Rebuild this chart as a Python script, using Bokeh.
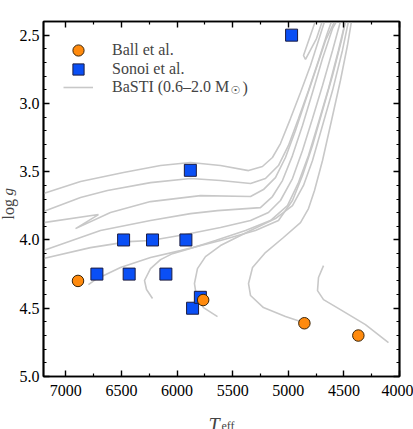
import math
from bokeh.plotting import figure
from bokeh.models import (Range1d, LinearAxis, FixedTicker, PrintfTickFormatter,
                          Legend, LegendItem, Label)
from bokeh.embed import file_html
from bokeh.resources import INLINE

# Ball et al. stars
ball_teff = [6890, 5765, 4855, 4370]
ball_logg = [4.30, 4.44, 4.61, 4.70]

# Sonoi et al. stars
sonoi_teff = [4970, 5880, 6480, 6220, 5920, 6720, 6430, 6100, 5860, 5790]
sonoi_logg = [2.50, 3.49, 4.00, 4.00, 4.00, 4.25, 4.25, 4.25, 4.50, 4.42]

# BaSTI evolutionary tracks, highest mass first
track1_teff = [7317, 7200, 6867, 6481, 6148, 5879, 5609, 5357, 5232, 5142, 5070, 4980,
               4890, 4800, 4728, 4674, 4620, 4576, 4692, 4863, 4845, 4746, 4647, 4593]
track1_logg = [3.682, 3.660, 3.572, 3.506, 3.455, 3.433, 3.455, 3.492, 3.462, 3.396, 3.294, 3.111,
               2.920, 2.722, 2.539, 2.400, 2.283, 2.173, 2.246, 2.649, 2.678, 2.525, 2.283, 2.173]

track2_teff = [7317, 7200, 6867, 6625, 6238, 5879, 5609, 5339, 5205, 5088, 4998, 4908,
               4818, 4728, 4656, 4611, 4576]
track2_logg = [3.814, 3.792, 3.689, 3.638, 3.580, 3.550, 3.565, 3.587, 3.550, 3.455, 3.308, 3.111,
               2.906, 2.686, 2.503, 2.400, 2.283]

track3_teff = [7317, 7200, 6706, 6912, 6598, 6238, 5789, 5339, 5223, 5115, 5025, 4935,
               4845, 4755, 4665, 4584, 4549]
track3_logg = [3.890, 3.873, 3.814, 3.917, 3.799, 3.719, 3.675, 3.682, 3.631, 3.543, 3.396, 3.199,
               2.979, 2.759, 2.539, 2.400, 2.283]

track4_teff = [7317, 7200, 6688, 6238, 5879, 5636, 5250, 5142, 5052, 4962, 4872, 4782,
               4692, 4602, 4567, 4531]
track4_logg = [4.114, 4.078, 3.931, 3.858, 3.807, 3.785, 3.763, 3.682, 3.565, 3.382, 3.162, 2.920,
               2.671, 2.451, 2.400, 2.283]

track5_teff = [7317, 7200, 6778, 6436, 6238, 5924, 5609, 5339, 5178, 5070, 4962, 4872,
               4782, 4692, 4602, 4531, 4495]
track5_logg = [4.188, 4.136, 4.056, 4.012, 4.004, 3.960, 3.909, 3.858, 3.799, 3.711, 3.550, 3.345,
               3.111, 2.869, 2.612, 2.400, 2.283]

track6_teff = [6796, 6733, 6508, 6238, 5969, 5609, 5295, 5088, 4962, 4872, 4782, 4692,
               4602, 4522, 4486]
track6_logg = [4.327, 4.290, 4.202, 4.129, 4.078, 4.004, 3.931, 3.858, 3.711, 3.528, 3.308, 3.052,
               2.796, 2.539, 2.400]

track7_teff = [6220, 6274, 6292, 6238, 6148, 6041, 5879, 5654, 5384, 5160, 5007, 4908,
               4818, 4728, 4638, 4549, 4486]
track7_logg = [4.429, 4.363, 4.297, 4.210, 4.144, 4.100, 4.063, 4.004, 3.931, 3.858, 3.748, 3.580,
               3.382, 3.140, 2.891, 2.612, 2.400]

track8_teff = [5636, 5762, 5825, 5843, 5816, 5744, 5609, 5339, 5115, 4962, 4863, 4782,
               4692, 4602, 4513, 4459]
track8_logg = [4.561, 4.495, 4.415, 4.319, 4.210, 4.122, 4.041, 3.931, 3.843, 3.748, 3.601, 3.418,
               3.162, 2.906, 2.612, 2.400]

track9_teff = [4863, 5025, 5223, 5339, 5357, 5321, 5205, 5043, 4890, 4818, 4764, 4692,
               4611, 4531, 4468, 4432]
track9_logg = [4.605, 4.561, 4.495, 4.407, 4.319, 4.202, 4.092, 3.982, 3.873, 3.770, 3.638, 3.418,
               3.125, 2.832, 2.576, 2.400]

track10_teff = [4683, 4728, 4737, 4683, 4531, 4306, 4099]
track10_logg = [4.188, 4.275, 4.371, 4.437, 4.510, 4.620, 4.752]

tracks_teff = [track1_teff, track2_teff, track3_teff, track4_teff, track5_teff,
               track6_teff, track7_teff, track8_teff, track9_teff, track10_teff]
tracks_logg = [track1_logg, track2_logg, track3_logg, track4_logg, track5_logg,
               track6_logg, track7_logg, track8_logg, track9_logg, track10_logg]

x_major = [4000, 4500, 5000, 5500, 6000, 6500, 7000]
x_minor = [4250, 4750, 5250, 5750, 6250, 6750]
y_major = [2.5, 3.0, 3.5, 4.0, 4.5, 5.0]
y_minor = [round(2.4 + 0.1 * i, 1) for i in range(27) if i % 5 != 1]

SERIF = "Liberation Serif"
TEFF_HOT, TEFF_COOL = 7200, 4000
LOGG_TOP, LOGG_BOTTOM = 2.4, 5.0

p = figure(width=413, height=429,
           x_range=Range1d(TEFF_HOT, TEFF_COOL), y_range=Range1d(LOGG_BOTTOM, LOGG_TOP),
           output_backend="svg", toolbar_location=None,
           min_border_left=43, min_border_right=14,
           min_border_top=21, min_border_bottom=53)
p.xgrid.visible = False
p.ygrid.visible = False
p.outline_line_color = "black"
p.outline_line_width = 1.7
p.background_fill_color = "white"
p.border_fill_color = "white"

p.add_layout(LinearAxis(), "above")
p.add_layout(LinearAxis(), "right")


def style_axis(ax, ticks, minors, fmt, show_labels, standoff):
    ax.ticker = FixedTicker(ticks=ticks, minor_ticks=minors)
    ax.formatter = PrintfTickFormatter(format=fmt)
    ax.axis_line_color = "black"
    ax.axis_line_width = 1.7
    # ticks point into the frame only
    ax.major_tick_in = 6
    ax.major_tick_out = 0
    ax.minor_tick_in = 3
    ax.minor_tick_out = 0
    ax.major_tick_line_color = "black"
    ax.major_tick_line_width = 1.4
    ax.minor_tick_line_color = "black"
    ax.minor_tick_line_width = 1.2
    ax.major_label_text_font = SERIF
    ax.major_label_standoff = standoff
    if show_labels:
        ax.major_label_text_font_size = "16px"
        ax.major_label_text_color = "black"
    else:
        ax.major_label_text_font_size = "0px"
        ax.major_label_text_color = None


style_axis(p.below[0], x_major, x_minor, "%d", True, 8)
style_axis(p.above[0], x_major, x_minor, "%d", False, 0)
style_axis(p.left[0], y_major, y_minor, "%.1f", True, 4)
style_axis(p.right[0], y_major, y_minor, "%.1f", False, 0)

tracks = p.multi_line(xs=tracks_teff, ys=tracks_logg,
                      line_color="#c8c8c8", line_width=1.6)
sonoi = p.scatter(sonoi_teff, sonoi_logg, marker="square", size=12,
                  fill_color="#0a4ff5", line_color="#1c1c40", line_width=1)
ball = p.scatter(ball_teff, ball_logg, marker="circle", size=11.5,
                 fill_color="#ff8a0d", line_color="#3a2408", line_width=1)

# one single-row legend per entry, stacked by hand
legend_rows = [("Ball et al.", ball, 312),
               ("Sonoi et al.", sonoi, 293),
               ("BaSTI (0.6\u20132.0 M", tracks, 275)]
for text, renderer, vy in legend_rows:
    p.add_layout(Legend(items=[LegendItem(label=text, renderers=[renderer])],
                        location=(20, vy), padding=0, margin=0, spacing=0,
                        glyph_width=30, glyph_height=28, label_height=28,
                        label_standoff=19,
                        label_text_font=SERIF, label_text_font_size="16px",
                        border_line_alpha=0, background_fill_alpha=0))

# solar symbol subscript and closing bracket of the track legend entry
p.add_layout(Label(x=187, y=286, x_units="screen", y_units="screen",
                   text="\u2609", text_font="DejaVu Sans", text_font_size="11px",
                   text_baseline="alphabetic"))
p.add_layout(Label(x=199, y=289, x_units="screen", y_units="screen",
                   text=")", text_font=SERIF, text_font_size="16px",
                   text_baseline="middle"))

# axis titles, kept in side panels so that they are drawn outside the frame
p.add_layout(Label(x=7515, y=3.850, text="log", text_font=SERIF, text_font_size="16px",
                   angle=math.pi / 2, text_align="left", text_baseline="middle"), "above")
p.add_layout(Label(x=7515, y=3.674, text="g", text_font=SERIF, text_font_style="italic",
                   text_font_size="15px",
                   angle=math.pi / 2, text_align="left", text_baseline="middle"), "left")
p.add_layout(Label(x=5717, y=5.355, text="T", text_font=SERIF, text_font_style="italic",
                   text_font_size="20px", text_baseline="alphabetic"), "below")
p.add_layout(Label(x=5600, y=5.366, text="eff", text_font=SERIF, text_font_size="12px",
                   text_baseline="alphabetic"), "right")

open("out.html", "w").write(file_html(p, INLINE))
